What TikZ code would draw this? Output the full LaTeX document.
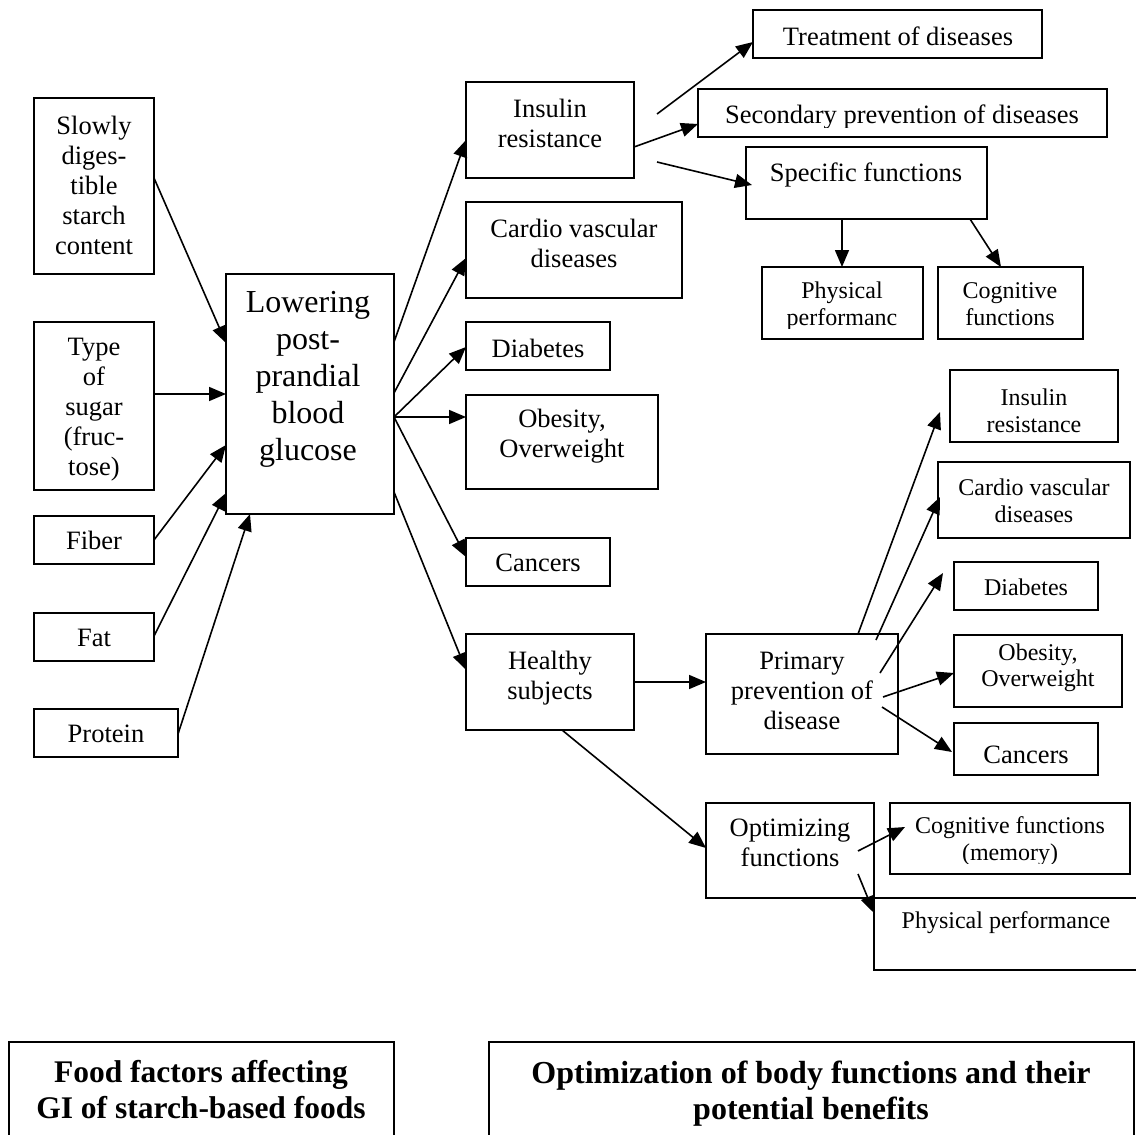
\documentclass[tikz,border=0pt]{standalone}
\usepackage{fontspec}
\setmainfont{Liberation Serif}
\usetikzlibrary{arrows.meta,fit}
\begin{document}
\begin{tikzpicture}[x=1pt,y=-1pt,
  box/.style={draw, line width=1.9pt, inner sep=0pt, outer sep=0pt},
  txt/.style={align=center, inner sep=0pt, font=\fontsize{26.5}{30}\selectfont},
  stxt/.style={align=center, inner sep=0pt, font=\fontsize{24}{26.5}\selectfont},
  btxt/.style={align=center, inner sep=0pt, font=\fontsize{32}{37}\selectfont},
  ctxt/.style={align=center, inner sep=0pt, font=\bfseries\fontsize{31.5}{36}\selectfont},
  arr/.style={-{Triangle[length=17pt,width=14pt]}, line width=1.6pt}]
\useasboundingbox (0,0) rectangle (1136,1135);
\clip (0,0) rectangle (1136,1135);

% ---------- left column ----------
\node[box, fit={(34,98) (154,274)}] (slow) {};
\node[txt] (slow-t) at (94,185) {Slowly\\diges-\\tible\\starch\\content};
\node[box, fit={(34,322) (154,490)}] (type) {};
\begin{scope}
\clip (34,322) rectangle (154,480);
\node[txt] (type-t) at (94,410) {Type\\of\\sugar\\(fruc-\\tose)};
\end{scope}
\node[box, fit={(34,516) (154,564)}] (fiber) {};
\node[txt] (fiber-t) at (94,540) {Fiber};
\node[box, fit={(34,613) (154,661)}] (fat) {};
\node[txt] (fat-t) at (94,638) {Fat};
\node[box, fit={(34,709) (178,757)}] (prot) {};
\node[txt] (prot-t) at (106,734) {Protein};

% ---------- central box ----------
\node[box, fit={(226,274) (394,514)}] (low) {};
\node[btxt] (low-t) at (308,379) {Lowering\\post-\\prandial\\blood\\glucose};

% ---------- middle column ----------
\node[box, fit={(466,82) (634,178)}] (ins) {};
\node[txt] (ins-t) at (550,123) {Insulin\\resistance};
\node[box, fit={(466,202) (682,298)}] (cvd) {};
\node[txt] (cvd-t) at (574,243) {Cardio vascular\\diseases};
\node[box, fit={(466,322) (610,370)}] (dia) {};
\node[txt] (dia-t) at (538,348) {Diabetes};
\node[box, fit={(466,395) (658,489)}] (obe) {};
\node[txt] (obe-t) at (562,436) {Obesity,\\Overweight};
\node[box, fit={(466,538) (610,586)}] (can) {};
\node[txt] (can-t) at (538,563) {Cancers};
\node[box, fit={(466,634) (634,730)}] (hea) {};
\node[txt] (hea-t) at (550,678) {Healthy\\subjects};

% ---------- top right ----------
\node[box, fit={(753,10) (1042,58)}] (treat) {};
\node[txt] (treat-t) at (898,36) {Treatment of diseases};
\node[box, fit={(698,89) (1107,137)}] (sec) {};
\begin{scope}
\clip (698,89) rectangle (1107,127);
\node[txt] (sec-t) at (902,117) {Secondary prevention of diseases};
\end{scope}
\node[box, fit={(746,147) (987,219)}] (spec) {};
\node[txt] (spec-t) at (866,175) {Specific functions};
\node[box, fit={(762,267) (923,339)}] (phys) {};
\begin{scope}
\clip (762,267) rectangle (923,328);
\node[stxt] (phys-t) at (842,306) {Physical\\performanc};
\end{scope}
\node[box, fit={(938,267) (1083,339)}] (cog) {};
\node[stxt] (cog-t) at (1010,304) {Cognitive\\functions};

% ---------- primary prevention ----------
\node[box, fit={(706,634) (898,754)}] (pri) {};
\node[txt] (pri-t) at (802,691) {Primary\\prevention of\\disease};
\node[box, fit={(950,370) (1118,442)}] (rins) {};
\node[stxt] (rins-t) at (1034,411) {Insulin\\resistance};
\node[box, fit={(938,462) (1130,538)}] (rcvd) {};
\node[stxt] (rcvd-t) at (1034,501) {Cardio vascular\\diseases};
\node[box, fit={(954,562) (1098,610)}] (rdia) {};
\node[stxt] (rdia-t) at (1026,587) {Diabetes};
\node[box, fit={(954,635) (1122,707)}] (robe) {};
\begin{scope}
\clip (954,635) rectangle (1122,693);
\node[stxt] (robe-t) at (1038,668) {Obesity,\\Overweight};
\end{scope}
\node[box, fit={(954,723) (1098,775)}] (rcan) {};
\node[txt] (rcan-t) at (1026,755) {Cancers};

% ---------- optimizing ----------
\node[box, fit={(706,803) (874,898)}] (opt) {};
\node[txt] (opt-t) at (790,843) {Optimizing\\functions};
\node[box, fit={(890,803) (1130,874)}] (mem) {};
\begin{scope}
\clip (890,803) rectangle (1130,863);
\node[stxt] (mem-t) at (1010,841) {Cognitive functions\\(memory)};
\end{scope}
\node[box, fit={(874,898) (1150,970)}] (pperf) {};
\node[stxt] (pperf-t) at (1006,923) {Physical performance};

% ---------- captions ----------
\node[box, fit={(9,1042) (394,1150)}] (cap1) {};
\node[ctxt] (cap1-t) at (201,1090) {Food factors affecting\\GI of starch-based foods};
\node[box, fit={(489,1042) (1134,1150)}] (cap2) {};
\node[ctxt, font=\bfseries\fontsize{32}{36}\selectfont] (cap2-t) at (811,1094) {Optimization of body functions and their\\potential benefits};

% ---------- free connector ends ----------
\coordinate (c1s) at (657,114);
\coordinate (c3s) at (657,162);
\coordinate (c3e) at (752,185);
\coordinate (e1e) at (940,412);
\coordinate (e2s) at (876,640);
\coordinate (e2e) at (940,497);
\coordinate (e3s) at (880,673);
\coordinate (e3e) at (943,573);
\coordinate (e4s) at (883,697);
\coordinate (e5s) at (882,707);
\coordinate (e5e) at (952,752);
\coordinate (f1s) at (858,851);
\coordinate (f1e) at (905,827);
\coordinate (f2s) at (858,874);

% ---------- connectors ----------
\draw[arr] (slow.east |- 0,178) -- (low.west |- 0,343);
\draw[arr] (type.east |- 0,394) -- (low.west |- 0,394);
\draw[arr] (fiber.east |- 0,540) -- (low.west |- 0,445);
\draw[arr] (fat.east |- 0,636) -- (low.west |- 0,493);
\draw[arr] (prot.east |- 0,734) -- (low.south -| 250,0);

\draw[arr] (low.east |- 0,342) -- (ins.west |- 0,140);
\draw[arr] (low.east |- 0,393) -- (cvd.west |- 0,258);
\draw[arr] (low.east |- 0,417) -- (dia.west |- 0,347);
\draw[arr] (low.east |- 0,417) -- (obe.west |- 0,417);
\draw[arr] (low.east |- 0,417) -- (can.west |- 0,557);
\draw[arr] (low.east |- 0,492) -- (hea.west |- 0,670);

\draw[arr] (c1s) -- (treat.west |- 0,42);
\draw[arr] (ins.east |- 0,147) -- (sec.west |- 0,124);
\draw[arr] (c3s) -- (c3e);
\draw[arr] (spec.south -| 842,0) -- (phys.north -| 842,0);
\draw[arr] (spec.south -| 970,0) -- (cog.north -| 1001,0);

\draw[arr] (hea.east |- 0,682) -- (pri.west |- 0,682);
\draw[arr] (hea.south -| 562,0) -- (opt.west |- 0,848);

\draw[arr] (pri.north -| 858,0) -- (e1e);
\draw[arr] (e2s) -- (e2e);
\draw[arr] (e3s) -- (e3e);
\draw[arr] (e4s) -- (robe.west |- 0,673);
\draw[arr] (e5s) -- (e5e);

\draw[arr] (f1s) -- (f1e);
\draw[arr] (f2s) -- (pperf.west |- 0,913);
\end{tikzpicture}
\end{document}
